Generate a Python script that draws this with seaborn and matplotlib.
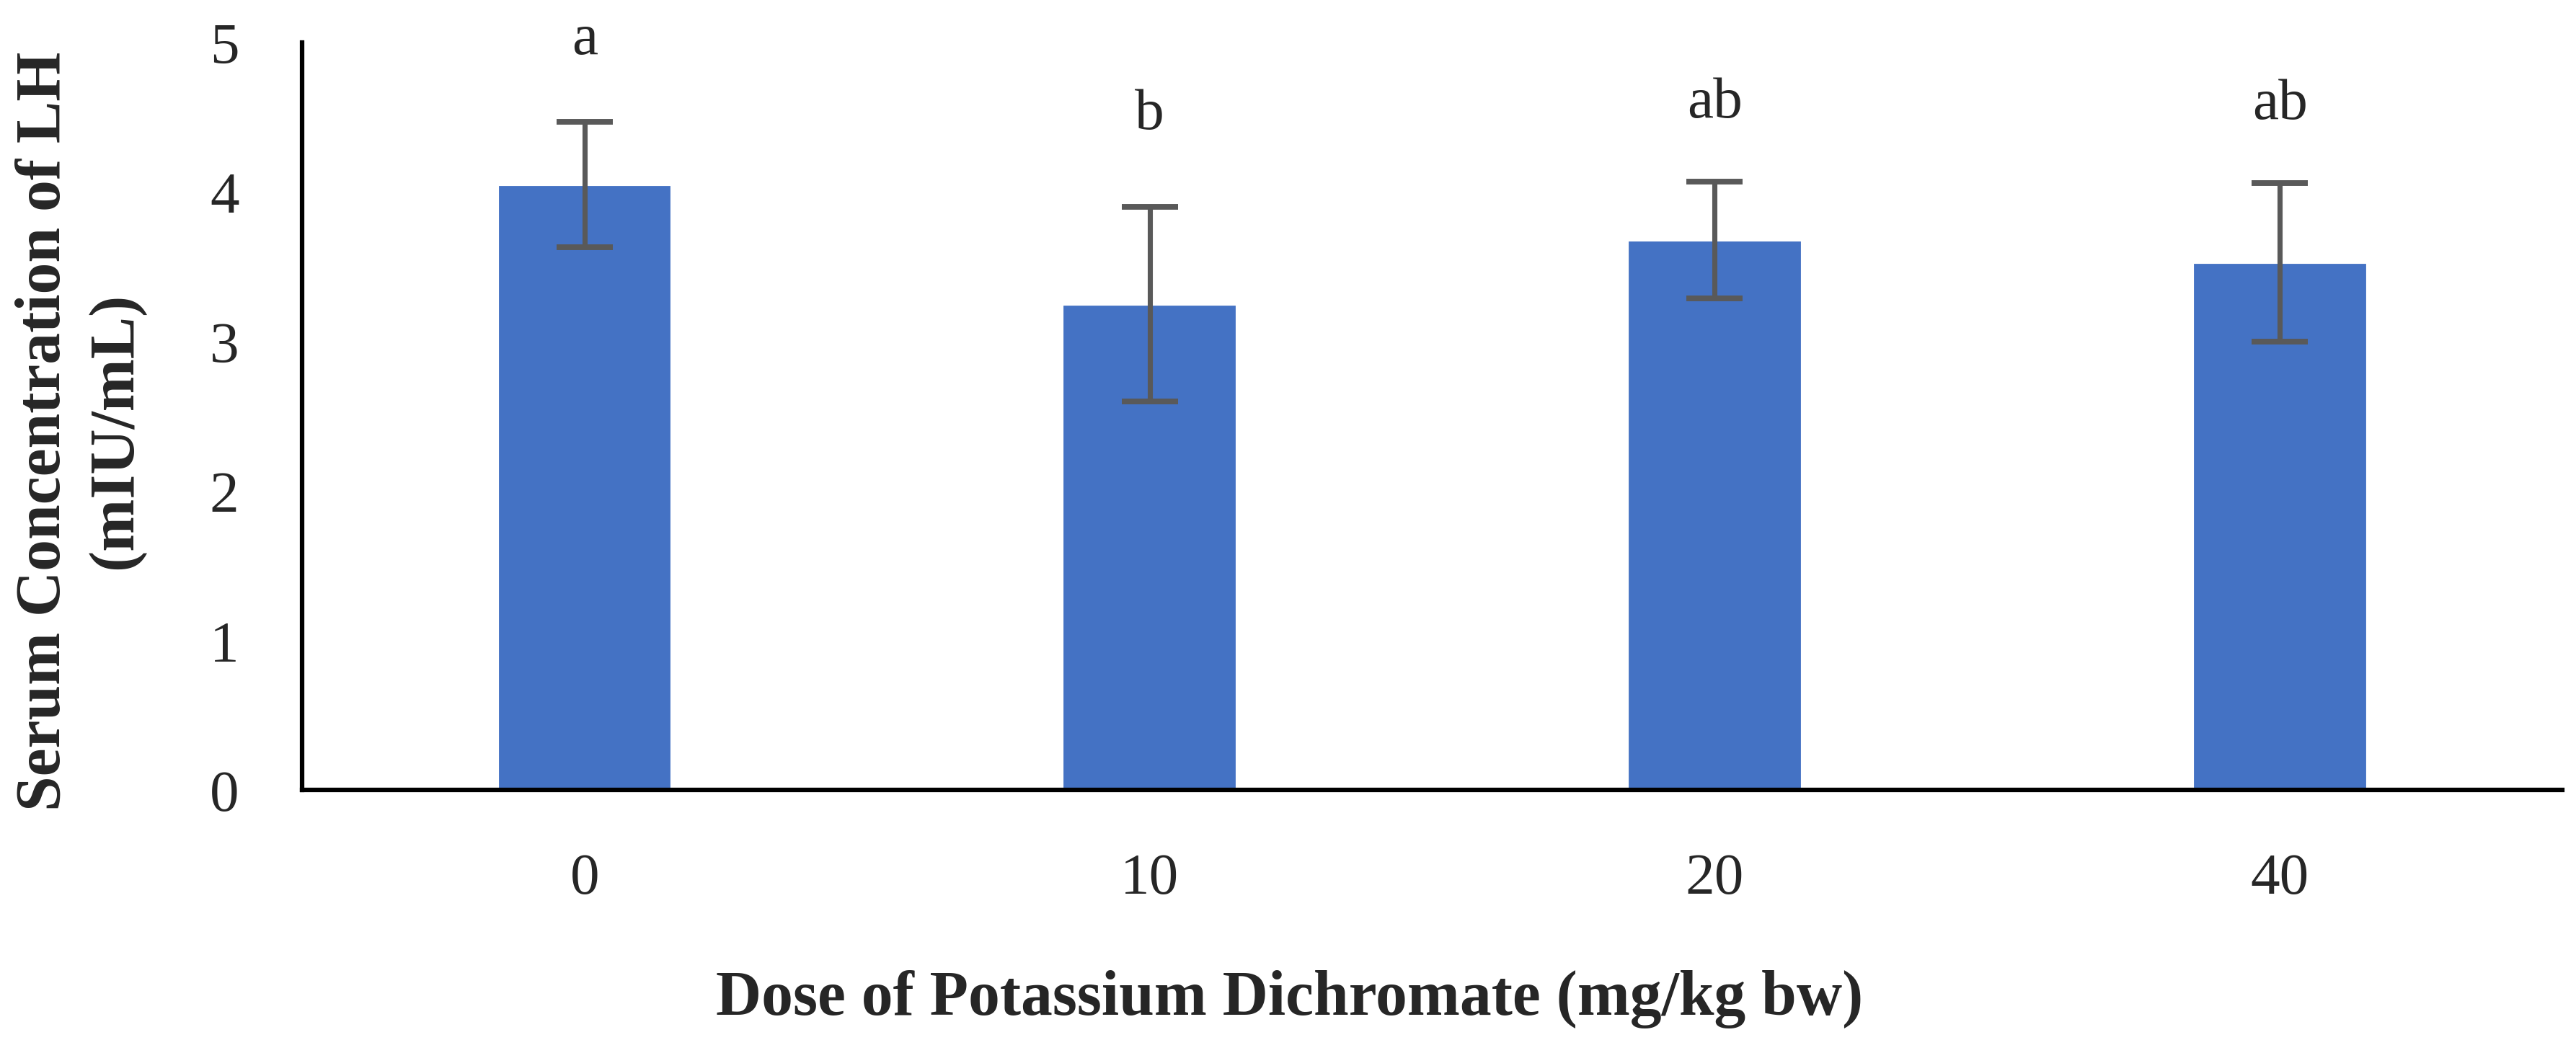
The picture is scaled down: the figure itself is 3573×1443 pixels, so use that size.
import seaborn as sns
import matplotlib.pyplot as plt
import pandas as pd

# values
doses = ["0", "10", "20", "40"]
lh_mean = [4.05, 3.25, 3.68, 3.53]
lh_err = [0.42, 0.65, 0.39, 0.53]
letters = ["a", "b", "ab", "ab"]
letter_y = [5.02, 4.52, 4.60, 4.59]

df = pd.DataFrame({"dose": doses, "lh": lh_mean})

sns.set_style("white")
plt.rcParams["font.family"] = ["Liberation Serif", "DejaVu Serif"]
fs = 19.5
lab_fs = 21

fig = plt.figure(figsize=(11.91, 4.8133), dpi=300)
ax = fig.add_axes([0.1173, 0.2403, 0.8774, 0.7181])

sns.barplot(x="dose", y="lh", data=df, color="#4472C4", saturation=1,
            width=0.31, errorbar=None, ax=ax)
ax.errorbar(range(len(doses)), lh_mean, yerr=lh_err, fmt="none",
            ecolor="#595959", elinewidth=1.7, capsize=9.4, capthick=1.9)

for i, (t, y) in enumerate(zip(letters, letter_y)):
    ax.text(i, y, t, ha="center", va="center", fontsize=fs, clip_on=False)

ax.set_ylim(0, 5)
ax.set_xlim(-0.5, 3.5)
ax.set_yticks([0, 1, 2, 3, 4, 5])
ax.tick_params(axis="both", length=0, labelsize=fs)
ax.tick_params(axis="y", pad=21)
ax.tick_params(axis="x", pad=21)

sns.despine(ax=ax)
for s in ["left", "bottom"]:
    ax.spines[s].set_color("black")
    ax.spines[s].set_linewidth(1.5)

ax.set_xlabel("Dose of Potassium Dichromate (mg/kg bw)", fontsize=lab_fs,
              fontweight="bold", va="center")
ax.xaxis.set_label_coords(0.437, -0.279)
ax.set_ylabel("Serum Concentration of LH\n(mIU/mL)", fontsize=lab_fs,
              fontweight="bold", va="center", linespacing=1.3)
ax.yaxis.set_label_coords(-0.0982, 0.481)

fig.savefig("out.png", dpi=300, facecolor="white")
